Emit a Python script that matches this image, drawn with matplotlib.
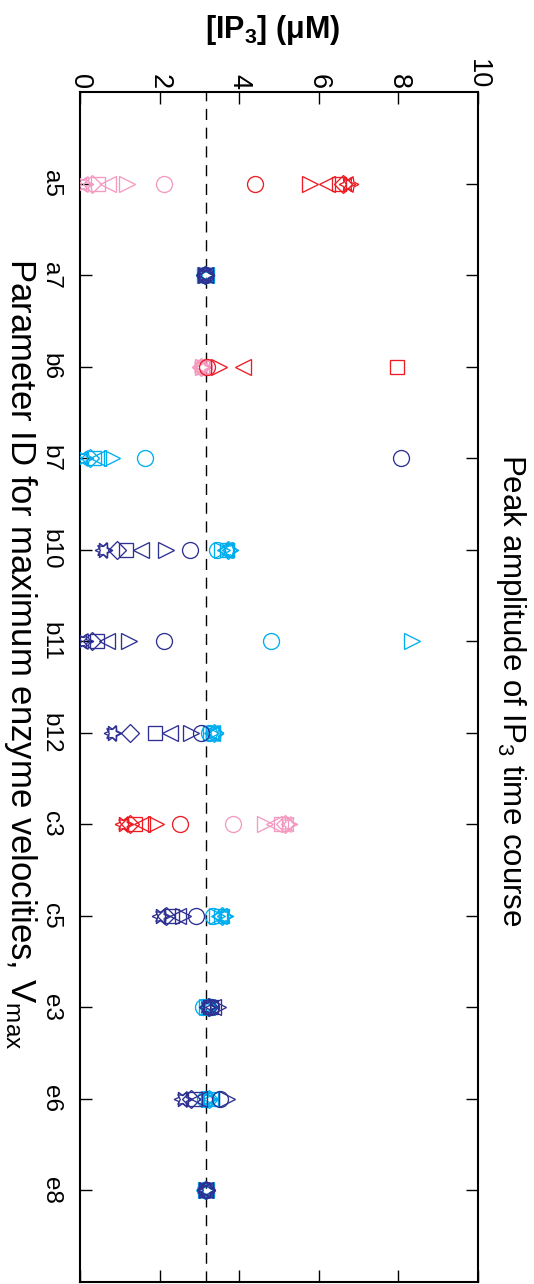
import matplotlib
matplotlib.use('Agg')
import matplotlib.pyplot as plt

plt.rcParams['font.family'] = ['Liberation Sans', 'DejaVu Sans']
plt.rcParams['mathtext.fontset'] = 'custom'
plt.rcParams['mathtext.rm'] = 'Liberation Sans'
plt.rcParams['mathtext.it'] = 'Liberation Sans:italic'
plt.rcParams['mathtext.bf'] = 'Liberation Sans:bold'

params = ['a5', 'a7', 'b6', 'b7', 'b10', 'b11', 'b12', 'c3', 'c5', 'e3', 'e6', 'e8']
baseline = 3.16  # unperturbed peak [IP3]

PINK, RED, CYAN, NAVY = '#f49ac1', '#ed1c24', '#00aeef', '#2e3192'
light_colors = [PINK, CYAN, PINK, CYAN, CYAN, CYAN, CYAN, PINK, CYAN, CYAN, CYAN, CYAN]
dark_colors = [RED, NAVY, RED, NAVY, NAVY, NAVY, NAVY, RED, NAVY, NAVY, NAVY, NAVY]

# peak [IP3] for each perturbation level: o, >, <, s, D, pentagram, hexagram
# None -> no value (off scale / no oscillation)
light_peaks = [
    [2.10, 1.18, 0.70, 0.45, 0.30, 0.12, 0.05],
    [3.14, 3.15, 3.16, 3.15, 3.14, 3.16, 3.15],
    [3.12, 3.10, 3.08, 3.06, 3.05, 3.04, 3.03],
    [1.64, 0.80, 0.45, 0.35, 0.25, 0.12, 0.05],
    [3.43, 3.58, 3.65, 3.70, 3.72, 3.75, 3.77],
    [4.80, 8.35, None, None, None, None, None],
    [3.25, 3.30, 3.32, 3.35, 3.36, 3.38, 3.40],
    [3.84, 4.65, 4.87, 5.05, 5.15, 5.22, 5.25],
    [3.34, 3.45, 3.50, 3.55, 3.58, 3.62, 3.65],
    [3.10, 3.18, 3.20, 3.22, 3.22, 3.24, 3.25],
    [3.15, 3.25, 3.30, 3.28, 3.25, 3.22, 3.20],
    [3.15, 3.16, 3.17, 3.16, 3.15, 3.17, 3.16],
]
dark_peaks = [
    [4.40, 5.79, 6.20, 6.52, 6.62, 6.78, 6.72],
    [3.15, 3.17, 3.13, 3.16, 3.14, 3.15, 3.16],
    [3.20, 3.50, 4.10, 7.96, None, None, None],
    [8.06, None, None, None, None, None, None],
    [2.77, 2.15, 1.53, 1.16, 0.93, 0.60, 0.58],
    [2.12, 1.23, 0.68, 0.43, 0.30, 0.12, 0.05],
    [3.03, 2.80, 2.27, 1.88, 1.25, 0.83, 0.80],
    [2.50, 1.90, 1.56, 1.38, 1.25, 1.12, 1.08],
    [2.92, 2.60, 2.45, 2.30, 2.15, 2.05, 2.00],
    [3.30, 3.47, 3.35, 3.30, 3.25, 3.22, 3.20],
    [3.53, 3.70, 3.00, 2.90, 2.78, 2.62, 2.57],
    [3.16, 3.18, 3.15, 3.17, 3.16, 3.18, 3.17],
]

markers = ['o', '>', '<', 's', 'D', (5, 1, -90), (6, 1, 90)]
msizes = [11.5, 12, 12, 9.5, 9.5, 12, 12]

fig = plt.figure(figsize=(5.34, 12.84), dpi=100)
ax = fig.add_axes([80 / 534, 2 / 1284, 398 / 534, 1190 / 1284])

ax.axvline(baseline, color='black', lw=1, ls=(0, (8, 5.5)), zorder=1)

for peaks, colors in [(light_peaks, light_colors), (dark_peaks, dark_colors)]:
    for i, (row, c) in enumerate(zip(peaks, colors)):
        for v, m, s in zip(row, markers, msizes):
            if v is None:
                continue
            ax.plot(v, i + 1, marker=m, ms=s, mfc='none', mec=c, mew=0.95,
                    ls='none', zorder=3)

ax.set_xlim(0, 10)
ax.set_ylim(13, 0)
ax.xaxis.tick_top()
ax.set_xticks(range(0, 11, 2))
ax.set_xticklabels([str(t) for t in range(0, 11, 2)], rotation=270,
                   ha='center', va='bottom', fontsize=19.5)
ax.set_yticks(range(1, 13))
ax.set_yticklabels(params, rotation=270, ha='center', va='center', fontsize=17.5)

ax.tick_params(axis='x', which='both', direction='in', length=8.5, width=1,
               top=True, bottom=True, pad=2)
ax.tick_params(axis='y', which='both', direction='in', length=8.5, width=1,
               left=True, right=True, pad=21)
for sp in ax.spines.values():
    sp.set_linewidth(1.5)

ax.xaxis.set_label_position('top')
ax.set_xlabel(r'[IP$_\mathbf{3}$] (μM)', fontsize=22, fontweight='bold')
ax.xaxis.set_label_coords(0.484, 1 + 62 / 1190)
ax.xaxis.label.set_va('center')

ax.set_ylabel(r'Parameter ID for maximum enzyme velocities, V$_\mathrm{max}$',
              rotation=270, fontsize=25, va='center', ha='center')
ax.yaxis.set_label_coords(-60 / 398, 0.528)

ax.text(1 + 33 / 398, 0.497, r'Peak amplitude of IP$_3$ time course',
        transform=ax.transAxes, rotation=270, fontsize=22.5,
        ha='center', va='center')

fig.savefig('out.png', dpi=100)
